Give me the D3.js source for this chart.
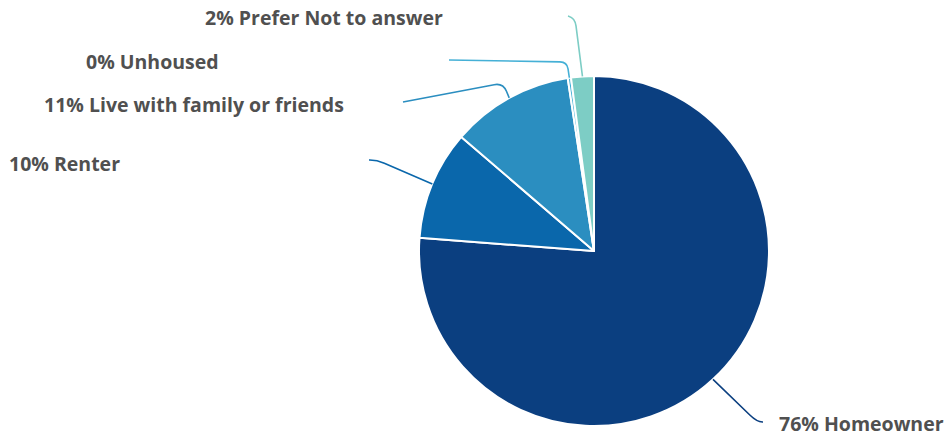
<!DOCTYPE html>
<html><head><meta charset="utf-8">
<script src="https://cdn.jsdelivr.net/npm/d3@7"></script>
<style>body{margin:0;background:#fff;}svg{display:block;}</style>
</head><body>
<svg id="chart" width="947" height="438"></svg>
<script>
// Data
const categories = ["Homeowner", "Renter", "Live with family or friends", "Unhoused", "Prefer Not to answer"];
const values = [76.2, 10.1, 11.3, 0.3, 2.1];
const percentLabels = ["76%", "10%", "11%", "0%", "2%"];
const colors = ["#0b3f80", "#0a67ab", "#2b8ec0", "#45b0d6", "#7dcdc5"];

// Layout (label text anchor, leader line end and elbow)
const labelPos = [
  {tx: 779, ty: 431, end: [763, 422], elbow: [757, 422], rad: 10},
  {tx: 9,   ty: 171, end: [369, 160], elbow: [377, 160], rad: 8},
  {tx: 44,  ty: 112, end: [403, 102], elbow: [503, 83], rad: 9},
  {tx: 86,  ty: 69,  end: [449, 60],  elbow: [567, 62], rad: 7},
  {tx: 205, ty: 25,  end: [568, 16],  elbow: [575, 18], rad: 8}
];

const W = 947, H = 438;
const cx = 594, cy = 251, R = 175;
const svg = d3.select("#chart");
const g = svg.append("g").attr("transform", `translate(${cx},${cy})`);

const pie = d3.pie().sort(null).value(d => d)(values);
const arc = d3.arc().innerRadius(0).outerRadius(R);
const edgeArc = d3.arc().innerRadius(R).outerRadius(R);

g.selectAll("path.slice").data(pie).join("path")
  .attr("class", "slice")
  .attr("d", arc)
  .attr("fill", (d, i) => colors[i])
  .attr("stroke", "#fff")
  .attr("stroke-width", 2)
  .attr("stroke-linejoin", "round");

function leaderPath(p0, elbow, end, r) {
  const d1 = Math.hypot(elbow[0] - p0[0], elbow[1] - p0[1]);
  const d2 = Math.hypot(end[0] - elbow[0], end[1] - elbow[1]);
  const r1 = Math.min(r, d1 * 0.9), r2 = Math.min(r, d2 * 0.9);
  const a = [elbow[0] + (p0[0] - elbow[0]) * r1 / d1, elbow[1] + (p0[1] - elbow[1]) * r1 / d1];
  const b = [elbow[0] + (end[0] - elbow[0]) * r2 / (d2 || 1), elbow[1] + (end[1] - elbow[1]) * r2 / (d2 || 1)];
  const p = d3.path();
  p.moveTo(p0[0], p0[1]);
  p.lineTo(a[0], a[1]);
  p.quadraticCurveTo(elbow[0], elbow[1], b[0], b[1]);
  p.lineTo(end[0], end[1]);
  return p.toString();
}

svg.selectAll("path.leader").data(pie).join("path")
  .attr("class", "leader")
  .attr("fill", "none")
  .attr("stroke", (d, i) => colors[i])
  .attr("stroke-width", 1.6)
  .attr("d", (d, i) => {
    const c = edgeArc.centroid(d);
    const p0 = [c[0] + cx, c[1] + cy];
    const L = labelPos[i];
    return leaderPath(p0, L.elbow, L.end, L.rad);
  });

svg.selectAll("text.lbl").data(pie).join("text")
  .attr("class", "lbl")
  .attr("x", (d, i) => labelPos[i].tx)
  .attr("y", (d, i) => labelPos[i].ty)
  .attr("font-family", "'Open Sans', sans-serif")
  .attr("font-weight", 700)
  .attr("font-size", 19.5)
  .attr("fill", "#505050")
  .text((d, i) => `${percentLabels[i]} ${categories[i]}`);
</script>
</body></html>
